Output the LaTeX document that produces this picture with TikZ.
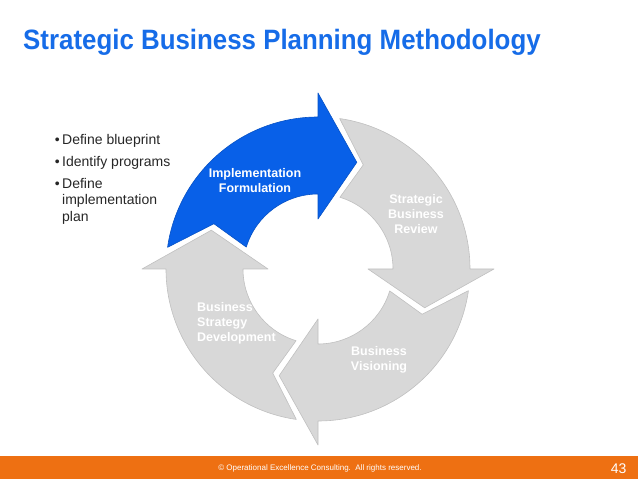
\documentclass[tikz,border=0pt]{standalone}
\usepackage{fontspec}
\setmainfont{Liberation Sans}
\newfontfamily\titlefont[FakeStretch=0.924]{Liberation Sans}
\definecolor{planblue}{RGB}{8,96,232}
\definecolor{titleblue}{RGB}{22,108,232}
\definecolor{plangray}{RGB}{216,216,216}
\definecolor{planedge}{RGB}{192,192,192}
\definecolor{planorange}{RGB}{238,112,18}

\begin{document}
\begin{tikzpicture}[x=1pt,y=1pt,
  arrowlabel/.style={text=white,font=\fontsize{12.5}{15}\selectfont\bfseries,align=center,inner sep=0pt},
  itemtext/.style={font=\fontsize{14}{16.5}\selectfont,text=black!85,anchor=base west,align=left,inner sep=0pt}]
\useasboundingbox (0,0) rectangle (638,479);

% Title
\node[anchor=base west,inner sep=0pt,text=titleblue,font=\titlefont\bfseries\fontsize{28}{30}\selectfont] (title) at (23,429.5) {Strategic Business Planning Methodology};

% Cycle of four arrows
\begin{scope}[shift={(318,210)}]
\foreach \b/\col/\edge in {0/plangray/planedge,-90/plangray/planedge,180/plangray/planedge,90/planblue/planblue!85!black}
  \filldraw[fill=\col,draw=\edge,line width=0.6pt,line join=round] (\b+81.8:152) arc[start angle=\b+81.8,end angle=\b,radius=152] -- (\b:176) -- (\b-20:113.5) -- (\b:50) -- (\b:75) arc[start angle=\b,end angle=\b+73,radius=75] -- (\b+66.5:113.5) -- cycle;
\end{scope}

% Arrow labels
\node[arrowlabel] (impl) at (255,298.5) {Implementation\\Formulation};
\node[arrowlabel] (review) at (416,265) {Strategic\\Business\\Review};
\node[arrowlabel,anchor=west,align=left] (strategy) at (197,156) {Business\\Strategy\\Development};
\node[arrowlabel] (vision) at (379,119.5) {Business\\Visioning};

% Steps of the blue phase
\node[itemtext] (item1) at (62,334) {\llap{\textbullet\hspace{2.5pt}}Define blueprint};
\node[itemtext] (item2) at (62,312) {\llap{\textbullet\hspace{2.5pt}}Identify programs};
\node[itemtext,anchor=north west] (item3) at (62,301.2) {\llap{\textbullet\hspace{2.5pt}}Define\\implementation\\plan};

% Footer
\fill[planorange] (0,0) rectangle (638,22.5);
\node[text=white,font=\fontsize{8}{9}\selectfont] (copy) at (320,10.5) {\textcopyright\ Operational Excellence Consulting.\ \ All rights reserved.};
\node[text=white,anchor=east,font=\fontsize{14}{16}\selectfont] (page) at (630,10.5) {43};
\end{tikzpicture}
\end{document}
